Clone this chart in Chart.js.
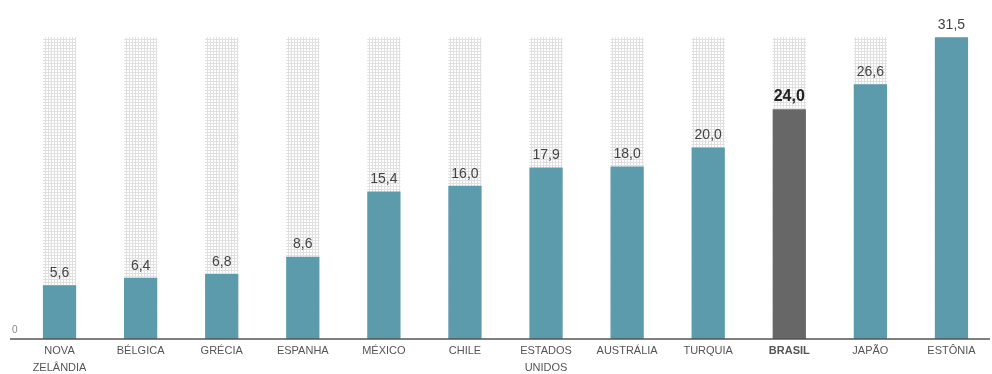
<!DOCTYPE html>
<html>
<head>
<meta charset="utf-8">
<script src="https://cdn.jsdelivr.net/npm/chart.js@4"></script>
<style>
  html, body { margin: 0; padding: 0; background: #fff; }
  #wrap { width: 992px; height: 374px; position: relative; }
</style>
</head>
<body>
<div id="wrap"><canvas id="chart"></canvas></div>
<script>
// dados
const paises = [['NOVA', 'ZELÂNDIA'], 'BÉLGICA', 'GRÉCIA', 'ESPANHA', 'MÉXICO', 'CHILE', ['ESTADOS', 'UNIDOS'], 'AUSTRÁLIA', 'TURQUIA', 'BRASIL', 'JAPÃO', 'ESTÔNIA'];
const valores = [5.6, 6.4, 6.8, 8.6, 15.4, 16.0, 17.9, 18.0, 20.0, 24.0, 26.6, 31.5];
const destaque = 'BRASIL';

const corBarra = '#5b9bac';
const corDestaque = '#676767';

function fmt(v) { return v.toFixed(1).replace('.', ','); }
function nome(p) { return Array.isArray(p) ? p.join(' ') : p; }

// fundo pontilhado das colunas
function makePattern() {
  const c = document.createElement('canvas');
  c.width = 3; c.height = 3;
  const g = c.getContext('2d');
  g.fillStyle = '#fff';
  g.fillRect(0, 0, 3, 3);
  g.fillStyle = '#e0e0e0';
  g.fillRect(0, 0, 3, 1);
  g.fillRect(0, 0, 1, 3);
  return g.createPattern(c, 'repeat');
}

const maximo = Math.max(...valores);
const fundo = valores.map(() => maximo);

const rotulos = {
  id: 'rotulos',
  afterDatasetsDraw(chart) {
    const ctx = chart.ctx;
    const meta = chart.getDatasetMeta(0);
    ctx.save();
    ctx.textAlign = 'center';
    ctx.textBaseline = 'bottom';
    meta.data.forEach((bar, i) => {
      const isB = nome(paises[i]) === destaque;
      ctx.font = isB ? 'bold 16px "Liberation Sans", Arial' : '14px "Liberation Sans", Arial';
      ctx.fillStyle = isB ? '#222' : '#444';
      ctx.fillText(fmt(valores[i]), bar.x, bar.y - 5);
    });
    // linha de base e zero
    const y = chart.scales.y.getPixelForValue(0);
    ctx.strokeStyle = '#555';
    ctx.lineWidth = 1.5;
    ctx.beginPath();
    ctx.moveTo(10, y);
    ctx.lineTo(990, y);
    ctx.stroke();
    ctx.font = '10px "Liberation Sans", Arial';
    ctx.fillStyle = '#888';
    ctx.textAlign = 'left';
    ctx.textBaseline = 'bottom';
    ctx.fillText('0', 12, y - 4);
    ctx.restore();
  }
};

new Chart(document.getElementById('chart'), {
  type: 'bar',
  data: {
    labels: paises,
    datasets: [
      {
        data: valores,
        backgroundColor: paises.map(p => nome(p) === destaque ? corDestaque : corBarra),
        barPercentage: 0.41,
        categoryPercentage: 1,
        grouped: false,
        order: 0
      },
      {
        data: fundo,
        backgroundColor: makePattern(),
        barPercentage: 0.41,
        categoryPercentage: 1,
        grouped: false,
        order: 1
      }
    ]
  },
  options: {
    responsive: true,
    maintainAspectRatio: false,
    animation: false,
    layout: { padding: { left: 19, right: 0, top: 22, bottom: -6 } },
    plugins: { legend: { display: false }, tooltip: { enabled: false } },
    scales: {
      x: {
        grid: { display: false, drawTicks: false },
        border: { display: false },
        ticks: {
          color: '#555',
          padding: 4,
          maxRotation: 0,
          autoSkip: false,
          font: (c) => ({ family: '"Liberation Sans Narrow", "Liberation Sans", Arial', size: 11, weight: nome(paises[c.index] || '') === destaque ? 'bold' : 'normal', lineHeight: 1.5 })
        }
      },
      y: {
        display: false,
        min: 0,
        max: 33.1
      }
    }
  },
  plugins: [rotulos]
});
</script>
</body>
</html>
